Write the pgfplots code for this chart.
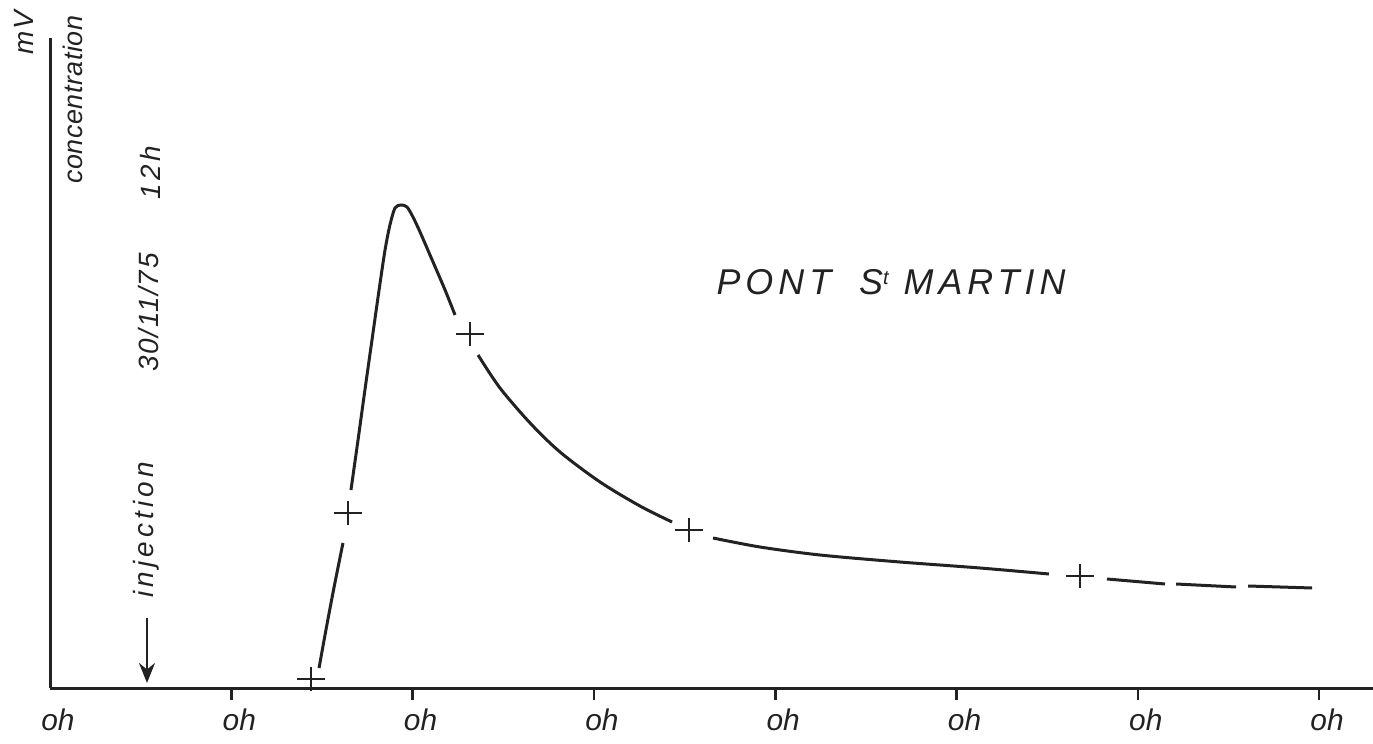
\documentclass[border=0pt]{standalone}
\usepackage{pgfplots}
\pgfplotsset{compat=1.18}
\usepackage{fontspec}
\setmainfont{Liberation Sans}
\usetikzlibrary{arrows.meta}
\definecolor{ink}{HTML}{222222}
\begin{document}
\begin{tikzpicture}
\begin{axis}[
  at={(0,0)}, anchor=south west,
  scale only axis,
  x=90.65bp, y=50bp,
  xmin=0, xmax=7.297, ymin=0, ymax=6.5,
  axis lines*=left,
  axis line style={line width=1.5bp, ink},
  xtick={1,2,3,4,5,6,7},
  xticklabels={oh,oh,oh,oh,oh,oh,oh},
  extra x ticks={0}, extra x tick labels={oh},
  extra x tick style={tick style={draw=none}},
  tick align=outside, major tick length=6bp,
  tick style={line width=1.3bp, ink},
  ytick=\empty,
  xticklabel style={font=\itshape\fontsize{15}{15}\selectfont, text=ink, xshift=4bp, yshift=-1bp},
  clip=false,
]
% markers
\addplot[only marks, mark=+, mark size=7bp, mark options={line width=1.3bp, ink, yscale=0.85}]
  coordinates {(1.440,0.09)(1.644,1.75)(2.317,3.54)(3.525,1.58)(5.681,1.12)};
% curve segments
\addplot[ink, line width=1.5bp, smooth] coordinates {(1.484,0.20)(1.522,0.58)(1.566,1.00)(1.616,1.45)};
\addplot[ink, line width=1.5bp, smooth] coordinates {(1.660,1.98)(1.699,2.48)(1.737,2.98)(1.776,3.48)(1.815,3.98)(1.848,4.38)(1.875,4.63)(1.903,4.80)(1.936,4.83)(1.969,4.81)(2.002,4.71)(2.041,4.56)(2.096,4.33)(2.179,3.98)(2.234,3.73)};
\addplot[ink, line width=1.5bp, smooth] coordinates {(2.361,3.33)(2.482,3.00)(2.648,2.65)(2.813,2.36)(3.034,2.06)(3.254,1.82)(3.431,1.66)};
\addplot[ink, line width=1.5bp, smooth] coordinates {(3.657,1.50)(3.916,1.41)(4.247,1.33)(4.688,1.26)(5.130,1.20)(5.510,1.14)};
\addplot[ink, line width=1.5bp] coordinates {(5.830,1.09)(6.150,1.04)};
\addplot[ink, line width=1.5bp] coordinates {(6.211,1.04)(6.542,1.01)};
\addplot[ink, line width=1.5bp] coordinates {(6.608,1.02)(6.961,1.00)};
% texts
\node[font=\itshape\fontsize{18}{18}\selectfont\addfontfeature{LetterSpace=14}, text=ink] at (axis cs:4.639,4.06) {PONT\hspace{14bp}S\raisebox{0.5ex}{\fontsize{10}{10}\selectfont t} MARTIN};
\node[rotate=90, anchor=west, inner sep=0pt, font=\itshape\fontsize{14}{14}\selectfont\addfontfeature{LetterSpace=6}, text=ink] at (axis cs:-0.145,6.33) {mV};
\node[rotate=90, anchor=west, inner sep=0pt, font=\itshape\fontsize{13.5}{14}\selectfont\addfontfeature{LetterSpace=2}, text=ink] at (axis cs:0.127,5.04) {concentration};
\node[rotate=90, anchor=west, inner sep=0pt, font=\itshape\fontsize{14}{14}\selectfont\addfontfeature{LetterSpace=12}, text=ink] at (axis cs:0.555,4.88) {12h};
\node[rotate=90, anchor=west, inner sep=0pt, font=\itshape\fontsize{14}{14}\selectfont\addfontfeature{LetterSpace=6}, text=ink] at (axis cs:0.545,3.16) {30/11/75};
\node[rotate=90, anchor=west, inner sep=0pt, font=\itshape\fontsize{14}{14}\selectfont\addfontfeature{LetterSpace=15}, text=ink] at (axis cs:0.530,0.90) {injection};
\draw[ink, line width=1.2bp, -{Stealth[length=10bp, width=8bp]}] (axis cs:0.535,0.70) -- (axis cs:0.535,0.05);
\end{axis}
\pgfresetboundingbox
\path[use as bounding box] (-25bp,-28bp) rectangle (661.5bp,344bp);
\end{tikzpicture}
\end{document}
